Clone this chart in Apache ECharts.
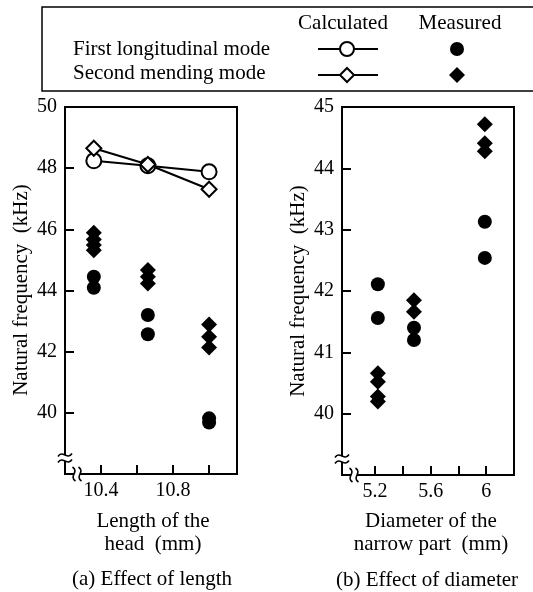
<!DOCTYPE html>
<html>
<head>
<meta charset="utf-8">
<script src="https://cdn.jsdelivr.net/npm/echarts@6/dist/echarts.min.js"></script>
<style>
html,body{margin:0;padding:0;background:#fff;}
#c{width:533px;height:592px;background:#fff;}
</style>
</head>
<body>
<div id="c"></div>
<script>
// ---- data ----
const leftX = [10.36, 10.66, 11.0];
const leftCalcFirst = [48.24, 48.08, 47.88];
const leftCalcSecond = [48.65, 48.12, 47.31];
const leftMeasFirst = [[44.45, 44.09], [43.20, 42.57], [39.82, 39.68]];
const leftMeasSecond = [[45.89, 45.67, 45.49, 45.32], [44.67, 44.45, 44.23], [42.89, 42.49, 42.14]];

const rightX = [5.22, 5.48, 5.99];
const rightMeasFirst = [[42.11, 41.56], [41.40, 41.20], [43.13, 42.54]];
const rightMeasSecond = [[40.66, 40.52, 40.28, 40.20], [41.85, 41.66], [44.72, 44.41, 44.28]];

const leftXLabels = [10.4, 10.8];
const leftYLabels = [40, 42, 44, 46, 48, 50];
const rightXTicks = [5.2, 5.4, 5.6, 5.8, 6.0];
const rightXLabels = [5.2, 5.6, 6.0];
const rightYLabels = [40, 41, 42, 43, 44, 45];

const FONT = 'Liberation Serif';

function pairs(xs, ys) { return xs.map((x, i) => [x, ys[i]]); }
function groups(xs, gs) {
  const out = [];
  gs.forEach((g, i) => g.forEach(v => out.push([xs[i], v])));
  return out;
}
const inList = (v, list) => list.some(t => Math.abs(t - v) < 1e-6);
const fmtNum = v => (Math.abs(v - Math.round(v)) < 1e-6 ? String(Math.round(v)) : Number(v).toFixed(1));
const richLabel = (v, list, fmt) => (inList(v, list) ? '{a|' + fmt(v) + '}' : '');
const RICH = {a: {fontFamily: FONT, fontSize: 20, color: '#000'}};

const GRIDS = [
  {left: 65, top: 107, width: 172, height: 367},
  {left: 342, top: 107, width: 172, height: 368}
];

function baseAxis(grid, min, max) {
  return {
    type: 'value', gridIndex: grid, min: min, max: max,
    splitLine: {show: true, lineStyle: {opacity: 0}},
    axisLine: {show: true, lineStyle: {color: '#000', width: 2}},
    axisTick: {show: true, inside: true, length: 9, lineStyle: {color: '#000', width: 2}},
    axisLabel: {color: '#000', fontFamily: FONT, fontSize: 20, rich: RICH}
  };
}

const xL = baseAxis(0, 10.2, 11.155);
xL.interval = 0.2;
xL.axisLabel.margin = 7;
xL.axisLabel.formatter = v => richLabel(v, leftXLabels, x => Number(x).toFixed(1));

const xR = baseAxis(1, 4.962, 6.2);
xR.axisTick.customValues = rightXTicks;
xR.axisLabel.customValues = rightXLabels;
xR.axisLabel.margin = 7;
xR.axisLabel.formatter = v => richLabel(v, rightXLabels, fmtNum);

const yL = baseAxis(0, 38, 50);
yL.interval = 2;
yL.axisLabel.margin = 8;
yL.axisLabel.formatter = v => richLabel(v, leftYLabels, fmtNum);

const yR = baseAxis(1, 39, 45);
yR.interval = 1;
yR.axisLabel.margin = 8;
yR.axisLabel.formatter = v => richLabel(v, rightYLabels, fmtNum);

const openStyle = {color: '#fff', borderColor: '#000', borderWidth: 2, opacity: 1};
const solidStyle = {color: '#000', borderWidth: 0, opacity: 1};

// ---- decorations: legend table, axis titles, captions, axis break marks ----
const txt = (x, y, s, align, rot) => ({type: 'text', x: x, y: y, rotation: rot || 0,
  style: {text: s, fill: '#000', fontFamily: FONT, fontSize: 21, align: align || 'left', verticalAlign: 'middle'}, z: 10});

const g = [];
g.push({type: 'rect', shape: {x: 42, y: 7, width: 520, height: 84}, style: {fill: 'none', stroke: '#000', lineWidth: 1.5}, z: 10});
g.push(txt(343, 23, 'Calculated', 'center'));
g.push(txt(460, 23, 'Measured', 'center'));
g.push(txt(73, 49, 'First longitudinal mode'));
g.push(txt(73, 73, 'Second mending mode'));
g.push({type: 'line', shape: {x1: 318, y1: 49, x2: 378, y2: 49}, style: {stroke: '#000', lineWidth: 2}, z: 10});
g.push({type: 'circle', shape: {cx: 347, cy: 49, r: 7}, style: {fill: '#fff', stroke: '#000', lineWidth: 2}, z: 11});
g.push({type: 'line', shape: {x1: 318, y1: 75, x2: 378, y2: 75}, style: {stroke: '#000', lineWidth: 2}, z: 10});
g.push({type: 'polygon', shape: {points: [[347, 68], [354, 75], [347, 82], [340, 75]]}, style: {fill: '#fff', stroke: '#000', lineWidth: 2}, z: 11});
g.push({type: 'circle', shape: {cx: 457, cy: 49, r: 7}, style: {fill: '#000'}, z: 11});
g.push({type: 'polygon', shape: {points: [[457, 67], [465, 75], [457, 83], [449, 75]]}, style: {fill: '#000'}, z: 11});

// axis titles
g.push(txt(21, 290, 'Natural frequency  (kHz)', 'center', Math.PI / 2));
g.push(txt(298, 291, 'Natural frequency  (kHz)', 'center', Math.PI / 2));
g.push(txt(153, 521, 'Length of the', 'center'));
g.push(txt(153, 544, 'head  (mm)', 'center'));
g.push(txt(431, 521, 'Diameter of the', 'center'));
g.push(txt(431, 544, 'narrow part  (mm)', 'center'));

// captions
g.push(txt(152, 579, '(a) Effect of length', 'center'));
g.push(txt(427, 580, '(b) Effect of diameter', 'center'));

function wave(x1, y1, x2, y2, dx, dy) {
  return {type: 'bezierCurve',
    shape: {x1: x1, y1: y1, x2: x2, y2: y2,
      cpx1: x1 + (x2 - x1) / 3 + dx, cpy1: y1 + (y2 - y1) / 3 + dy,
      cpx2: x1 + 2 * (x2 - x1) / 3 - dx, cpy2: y1 + 2 * (y2 - y1) / 3 - dy},
    style: {fill: 'none', stroke: '#000', lineWidth: 1.6}, z: 13};
}
function breaks(gr) {
  const cx = gr.left, cy = gr.top + gr.height;
  const yb = cy - 16;
  g.push({type: 'rect', shape: {x: cx - 4, y: yb - 3, width: 8, height: 6}, style: {fill: '#fff'}, z: 12});
  [-3, 3].forEach(d => g.push(wave(cx - 7, yb + d + 1.5, cx + 7, yb + d - 1.5, 0, -6)));
  const xb = cx + 12;
  g.push({type: 'rect', shape: {x: xb - 3, y: cy - 4, width: 6, height: 8}, style: {fill: '#fff'}, z: 12});
  [-3, 3].forEach(d => g.push(wave(xb + d - 1.5, cy - 7, xb + d + 1.5, cy + 7, 6, 0)));
}
GRIDS.forEach(breaks);

const option = {
  animation: false,
  grid: GRIDS.map(gr => Object.assign({show: true, borderColor: '#000', borderWidth: 2}, gr)),
  xAxis: [xL, xR],
  yAxis: [yL, yR],
  series: [
    {type: 'line', name: 'Calc first', xAxisIndex: 0, yAxisIndex: 0, data: pairs(leftX, leftCalcFirst),
     symbol: 'circle', symbolSize: 15, showAllSymbol: true, lineStyle: {color: '#000', width: 2}, itemStyle: openStyle, z: 3},
    {type: 'line', name: 'Calc second', xAxisIndex: 0, yAxisIndex: 0, data: pairs(leftX, leftCalcSecond),
     symbol: 'diamond', symbolSize: [15, 15], showAllSymbol: true, lineStyle: {color: '#000', width: 2}, itemStyle: openStyle, z: 3},
    {type: 'scatter', name: 'Meas first L', xAxisIndex: 0, yAxisIndex: 0, data: groups(leftX, leftMeasFirst),
     symbol: 'circle', symbolSize: 14, itemStyle: solidStyle},
    {type: 'scatter', name: 'Meas second L', xAxisIndex: 0, yAxisIndex: 0, data: groups(leftX, leftMeasSecond),
     symbol: 'diamond', symbolSize: [16, 16], itemStyle: solidStyle},
    {type: 'scatter', name: 'Meas first R', xAxisIndex: 1, yAxisIndex: 1, data: groups(rightX, rightMeasFirst),
     symbol: 'circle', symbolSize: 14, itemStyle: solidStyle},
    {type: 'scatter', name: 'Meas second R', xAxisIndex: 1, yAxisIndex: 1, data: groups(rightX, rightMeasSecond),
     symbol: 'diamond', symbolSize: [16, 16], itemStyle: solidStyle}
  ],
  graphic: g
};

const chart = echarts.init(document.getElementById('c'), null, {renderer: 'canvas'});
chart.setOption(option);
</script>
</body>
</html>
